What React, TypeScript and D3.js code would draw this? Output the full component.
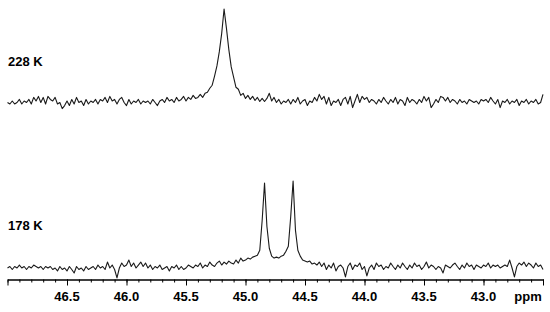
import React, { useEffect, useRef } from "react";
import * as d3 from "d3";

const WIDTH = 550;
const HEIGHT = 312;

// spectrum sampled every 0.02 ppm from 47.00 down to 42.50
const PPM_START = 47.0;
const PPM_STEP = 0.02;

const MAJOR_TICKS = [47.0, 46.5, 46.0, 45.5, 45.0, 44.5, 44.0, 43.5, 43.0, 42.5];
const TICK_LABELS = [46.5, 46.0, 45.5, 45.0, 44.5, 44.0, 43.5, 43.0];
const TRACE_LABELS = ["228 K", "178 K"];

// 228 K trace, intensity in arbitrary units
const SPEC_228 = [
  0, -1.5, 1.5, -1.5, 0, 3, -1.5, 1.5, 0, 3,
  -1.5, 5, 1.5, 6, 0, 5, -1.5, 6, 3, 1.5,
  5, -1.5, 0, -6, -3, 1.5, -3, 3, -1.5, 5,
  0, 1.5, -3, 3, -1.5, 1.5, 0, 3, -1.5, 3,
  1.5, 5, 0, 6, 1.5, 3, -1.5, 3, 5, 0,
  -3, 3, -1.5, 1.5, 0, 3, -1.5, 1.5, 0, 1.5,
  -1.5, 3, 0, -3, 1.5, 3, 0, 5, 1.5, 3,
  0, 5, 1.5, 3, 6, 1.5, 5, 3, 7, 4,
  5, 8, 5, 9, 10, 14, 17, 26, 36, 50,
  68, 92, 73, 52, 35, 25, 15, 13, 7, 9,
  4, 7, 3, 6, 2, 5, 1, 4, 1, 4,
  9, 1.5, 5, 0, 3, -1.5, 1.5, 0, 3, -1.5,
  3, 0, 5, -1.5, 1.5, 3, -3, 1.5, 0, 5,
  1.5, 8, 3, 6, -1.5, 5, -3, 1.5, 0, 3,
  -3, 3, 5, -1.5, 6, -5, 1.5, 8, 0, 6,
  3, 5, 0, 3, 1.5, -1.5, 3, 0, 5, 1.5,
  -1.5, 3, 0, 5, -1.5, 3, 1.5, -3, 5, 0,
  3, 1.5, -1.5, 3, 0, 6, 1.5, 5, -5, -1.5,
  3, 0, 6, 5, 1.5, 5, 0, 3, 1.5, -1.5,
  3, 0, 1.5, -1.5, 3, 1.5, 0, 1.5, -1.5, 3,
  1.5, 3, 0, 5, 1.5, -1.5, 3, -5, 1.5, 0,
  3, -1.5, 1.5, 0, 3, -3, 1.5, 0, 3, -1.5,
  1.5, 0, 3, -1.5, 0, 8,
];

// 178 K trace
const SPEC_178 = [
  0, 1.5, -1.5, 1.5, 0, 3, 0, 1.5, -1.5, 1.5,
  0, 3, 1.5, 0, 1.5, -1.5, 1.5, 0, 1.5, -1.5,
  0, -3, 1.5, -1.5, 0, -3, 1.5, -1.5, -5, 1.5,
  -1.5, 0, -3, 1.5, -1.5, 0, 1.5, -1.5, 3, 0,
  1.5, -1.5, 6, 0, 3, -1.5, -10, 0, 5, 1.5,
  3, 8, 1.5, 5, 0, 3, 6, 1.5, 5, 0,
  3, -1.5, 1.5, 0, 3, -1.5, 0, 1.5, -3, 1.5,
  0, 3, -1.5, 1.5, -1.5, 0, 3, 1.5, 0, 3,
  1.5, 5, 0, 3, 1.5, 6, 3, 1.5, 5, 7,
  3, 6, 4, 7, 5, 4, 8, 5, 10, 7,
  8, 10, 9, 11, 12, 13, 18, 48, 86, 42,
  20, 12, 10, 11, 10, 12, 13, 17, 22, 52,
  88, 38, 18, 12, 8, 7, 6, 7, 4, 5,
  3, 6, 1.5, 5, -1.5, 3, 0, 5, -3, 1.5,
  3, 0, -9, 1.5, 5, -1.5, 3, 1.5, 5, -1.5,
  1.5, -8, 0, 3, -1.5, 5, 1.5, 3, -1.5, 1.5,
  0, 5, 1.5, -1.5, 3, 0, 5, 1.5, -1.5, 3,
  0, 5, 1.5, 3, -1.5, 1.5, 6, 0, 3, 1.5,
  -1.5, 1.5, 0, -5, 3, 1.5, 0, 3, 5, 1.5,
  -1.5, 3, 0, 5, 1.5, 3, -1.5, 3, 1.5, 0,
  3, 1.5, 5, 0, 3, 1.5, 3, 0, 1.5, 3,
  1.5, 8, 0, -9, 1.5, 5, 3, 6, 1.5, 5,
  3, 0, 5, 1.5, 3, -1.5,
];

const x = d3.scaleLinear().domain([47.0, 42.5]).range([7.5, 543]);
const yTop = d3.scaleLinear().domain([0, 92]).range([102.5, 9]);
const yBottom = d3.scaleLinear().domain([0, 88]).range([268, 181]);

const AXIS_Y = 279.5;
const FONT = "'Liberation Sans', Arial, sans-serif";

const Trace = ({ values, y }: { values: number[]; y: d3.ScaleLinear<number, number> }) => {
  const line = d3
    .line<number>()
    .x((_, i) => x(PPM_START - i * PPM_STEP))
    .y((d) => y(d));
  return <path d={line(values) || ""} fill="none" stroke="#1a1a1a" strokeWidth={1.1} strokeLinejoin="round" />;
};

export default function App() {
  const axisRef = useRef<SVGGElement>(null);

  useEffect(() => {
    const g = d3.select(axisRef.current);
    g.selectAll("*").remove();
    const minor = d3.range(0, 46).map((i) => +(47 - i * 0.1).toFixed(1));
    g.append("g")
      .call(d3.axisBottom(x).tickValues(minor).tickSize(3).tickSizeOuter(0).tickFormat(() => ""));
    g.append("g")
      .call(d3.axisBottom(x).tickValues(MAJOR_TICKS).tickSize(6).tickSizeOuter(0).tickFormat(() => ""));
    g.selectAll("path, line").attr("stroke", "#000").attr("stroke-width", 1);
  }, []);

  return (
    <svg
      width={WIDTH}
      height={HEIGHT}
      style={{ position: "absolute", left: 0, top: 0, background: "#fff" }}
    >
      <Trace values={SPEC_228} y={yTop} />
      <Trace values={SPEC_178} y={yBottom} />
      <text x={8} y={65.5} fontFamily={FONT} fontWeight="bold" fontSize={13} fill="#000">
        {TRACE_LABELS[0]}
      </text>
      <text x={8} y={230} fontFamily={FONT} fontWeight="bold" fontSize={13} fill="#000">
        {TRACE_LABELS[1]}
      </text>
      <g ref={axisRef} transform={`translate(0,${AXIS_Y})`} />
      {TICK_LABELS.map((t) => (
        <text
          key={t}
          x={x(t)}
          y={300.5}
          textAnchor="middle"
          fontFamily={FONT}
          fontWeight="bold"
          fontSize={13}
          fill="#000"
        >
          {t.toFixed(1)}
        </text>
      ))}
      <text x={528} y={300.5} textAnchor="middle" fontFamily={FONT} fontWeight="bold" fontSize={13} fill="#000">
        ppm
      </text>
    </svg>
  );
}
